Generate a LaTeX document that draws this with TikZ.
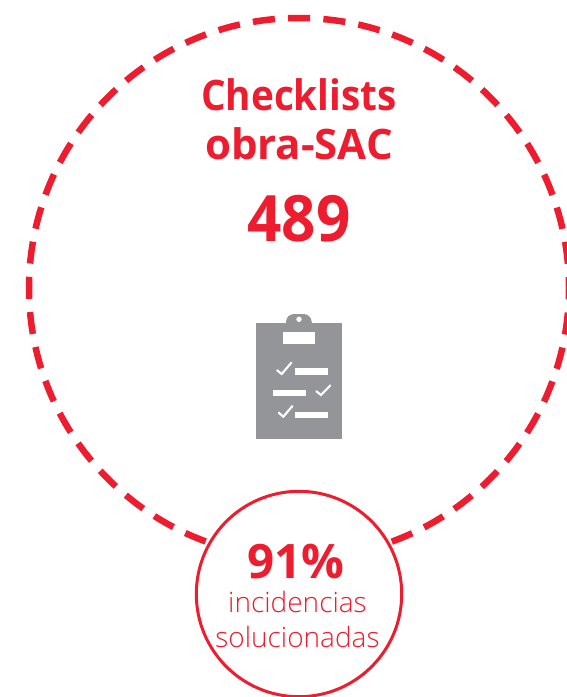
\documentclass[tikz,border=0pt]{standalone}
\usepackage{fontspec}
\setmainfont{Open Sans}
\newfontfamily\titlefont[FakeStretch=0.92]{Open Sans}
\newfontfamily\numfont[FakeStretch=0.94]{Open Sans}
\newfontfamily\subfont{Open Sans Light}
\definecolor{sacred}{HTML}{ED1C2E}
\definecolor{icongray}{HTML}{939598}
\tikzset{
 bigring/.style={draw=sacred,line width=6.5pt,dash pattern=on 22.08pt off 13.26pt,dash phase=11.04pt,circle,inner sep=0pt,outer sep=0pt,minimum size=540pt},
 smallring/.style={draw=sacred,line width=3pt,fill=white,circle,inner sep=0pt,outer sep=0pt,minimum size=205.4pt},
 redtext/.style={text=sacred,inner sep=0pt,align=center},
 tick/.style={draw=white,line width=2.1pt},
 bar/.style={fill=white}
}
\begin{document}
\begin{tikzpicture}[x=1pt,y=-1pt]
\useasboundingbox (0,0) rectangle (567,697);
\node[bigring] (ring) at (299,288) {};
\node[smallring] (small) at (299,594) {};
\node[redtext,font=\bfseries\fontsize{42}{49}\selectfont] (title) at (299,119) {{\titlefont Checklists}\\obra-SAC};
\node[redtext,font=\numfont\bfseries\fontsize{64}{64}\selectfont] (num) at (299,219) {489};
\node[redtext,font=\bfseries\fontsize{47.5}{47.5}\selectfont] (pct) at (296,562) {91\%};
\node[redtext,font=\subfont\fontsize{28}{35}\selectfont] (sub) at (297.5,619) {incidencias\\solucionadas};
% clipboard
\fill[icongray] (256,322.7) rectangle (341.7,439.3);
\fill[icongray,rounded corners=8pt] (286,330) -- (286,314) -- (311.7,314) -- (311.7,330) -- cycle;
\fill[icongray] (286,322) rectangle (311.7,324);
\fill[white] (299,319.3) circle (2.7pt);
\fill[white] (283,331.7) rectangle (315,344);
\draw[tick] (276.7,370) -- (281.7,374) -- (291.7,362.3);
\fill[bar] (294.7,368.3) rectangle (328.3,375);
\fill[bar] (272.7,390) rectangle (306,396.3);
\draw[tick] (316,391) -- (321,395) -- (330.7,385);
\draw[tick] (278.3,412.3) -- (283.3,416.7) -- (292.7,405.7);
\fill[bar] (294.7,411.7) rectangle (328.3,418.3);
\end{tikzpicture}
\end{document}
